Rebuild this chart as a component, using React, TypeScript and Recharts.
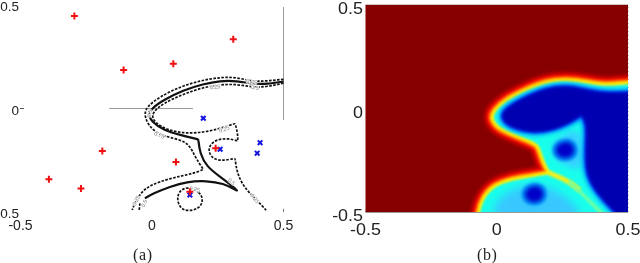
import React from 'react';
import { ScatterChart, Scatter, XAxis, YAxis, ReferenceLine, Curve } from 'recharts';

type Pair = [number, number];

const axisTicks = [-0.5, 0, 0.5];

// (a) training points
const redPoints: Pair[] = [
  [-0.295, 0.447], [0.309, 0.334], [0.081, 0.216], [-0.108, 0.186], [-0.189, -0.205],
  [-0.392, -0.342], [-0.27, -0.387], [0.091, -0.258], [0.242, -0.192], [0.144, -0.402],
];
const bluePoints: Pair[] = [
  [0.195, -0.047], [0.259, -0.197], [0.411, -0.165], [0.4, -0.216], [0.144, -0.418],
];

// (a) contours
const contour50: Pair[] = [
  [0.5, 0.13], [0.436, 0.118], [0.385, 0.118], [0.322, 0.134], [0.258, 0.134], [0.195, 0.118],
  [0.119, 0.089], [0.043, 0.041], [-0.001, 0.001], [-0.014, -0.031], [-0.001, -0.064],
  [0.043, -0.104], [0.106, -0.128], [0.176, -0.149], [0.176, -0.149], [0.182, -0.217], [0.208, -0.281],
  [0.258, -0.329], [0.309, -0.378], [0.324, -0.397], [0.324, -0.397], [0.271, -0.361], [0.208, -0.349],
  [0.132, -0.353], [0.068, -0.378], [0.005, -0.41], [-0.027, -0.434],
];
const contour50Tail: Pair[] = [[-0.046, -0.458], [-0.049, -0.494]];
const contour75: Pair[] = [
  [0.5, 0.141], [0.436, 0.133], [0.385, 0.13], [0.322, 0.151], [0.258, 0.151], [0.182, 0.134],
  [0.106, 0.105], [0.03, 0.057], [-0.02, 0.009], [-0.03, -0.031], [-0.014, -0.08], [0.018, -0.12],
  [0.068, -0.141], [0.138, -0.16], [0.163, -0.233], [0.195, -0.294], [0.195, -0.294], [0.163, -0.313],
  [0.068, -0.337], [-0.008, -0.37], [-0.046, -0.41], [-0.071, -0.474], [-0.075, -0.49],
];
const contour25: Pair[] = [
  [0.5, 0.122], [0.436, 0.105], [0.385, 0.102], [0.322, 0.118], [0.258, 0.115], [0.195, 0.102],
  [0.119, 0.07], [0.043, 0.025], [0.005, -0.015], [-0.001, -0.048], [0.03, -0.088], [0.094, -0.117],
  [0.17, -0.12], [0.252, -0.101], [0.316, -0.072], [0.316, -0.072], [0.326, -0.12], [0.326, -0.157], [0.326, -0.157], [0.29, -0.144],
  [0.246, -0.149], [0.22, -0.176], [0.214, -0.209], [0.233, -0.246], [0.271, -0.252], [0.316, -0.241], [0.316, -0.241],
  [0.322, -0.305], [0.347, -0.378], [0.398, -0.442], [0.436, -0.494],
];
const contourRing: Pair[] = [
  [0.138, -0.378], [0.182, -0.402], [0.195, -0.442], [0.182, -0.482], [0.138, -0.498],
  [0.106, -0.482], [0.094, -0.434], [0.106, -0.394],
];

const contourLabels = [
  { x: 0.24, y: 0.105, text: '0.25', angle: -6 },
  { x: 0.379, y: 0.13, text: '0.75', angle: 8 },
  { x: 0.392, y: 0.102, text: '0.5', angle: 8 },
  { x: -0.01, y: -0.023, text: '0.5', angle: -80 },
  { x: 0.028, y: -0.128, text: '0.75', angle: 20 },
  { x: 0.274, y: -0.099, text: '0.25', angle: -20 },
  { x: 0.303, y: -0.353, text: '0.5', angle: 40 },
  { x: 0.392, y: -0.434, text: '0.25', angle: 50 },
  { x: -0.061, y: -0.445, text: '0.25', angle: -65 },
  { x: -0.03, y: -0.458, text: '0.5', angle: -65 },
  { x: 0.163, y: -0.389, text: '0.25', angle: 10 },
];

// (b) surface regions
const plotFrame: Pair[] = [[-0.6, 0.6], [0.6, 0.6], [0.6, -0.6], [-0.6, -0.6]];
const boundaryRegion: Pair[] = [
  [-0.074, -0.587], [-0.064, -0.498], [-0.051, -0.442], [-0.013, -0.378], [0.063, -0.345], [0.152, -0.329],
  [0.209, -0.316], [0.209, -0.316], [0.188, -0.273], [0.171, -0.217], [0.162, -0.176], [0.133, -0.155],
  [0.063, -0.12], [0.006, -0.088], [-0.016, -0.047], [-0.007, -0.015], [0.038, 0.038], [0.114, 0.086],
  [0.19, 0.125], [0.266, 0.134], [0.342, 0.122], [0.406, 0.105], [0.495, 0.118], [0.558, 0.122],
  [0.62, 0.122], [0.62, -0.62], [-0.074, -0.62],
];
const lowerLobe: Pair[] = [
  [-0.026, -0.523], [-0.007, -0.458], [0.038, -0.402], [0.101, -0.37], [0.177, -0.37], [0.241, -0.402],
  [0.304, -0.474], [0.336, -0.531], [0.15, -0.62],
];
const upperLobe: Pair[] = [
  [0.203, -0.176], [0.266, -0.112], [0.317, -0.096], [0.33, -0.2], [0.323, -0.305], [0.279, -0.281], [0.228, -0.257],
];
const deepRegion: Pair[] = [
  [0.558, 0.081], [0.495, 0.076], [0.406, 0.073], [0.342, 0.089], [0.266, 0.109], [0.19, 0.097],
  [0.114, 0.057], [0.05, 0.012], [0.019, -0.023], [0.025, -0.064], [0.069, -0.096], [0.139, -0.117],
  [0.215, -0.101], [0.273, -0.072], [0.323, -0.031], [0.323, -0.031], [0.345, -0.072], [0.34, -0.184],
  [0.34, -0.297], [0.362, -0.37], [0.406, -0.442], [0.457, -0.506], [0.508, -0.579], [0.558, -0.62], [0.62, -0.62], [0.62, 0.081],
];
const upperSpot: Pair[] = [
  [0.22, -0.2], [0.235, -0.17], [0.26, -0.16], [0.285, -0.165], [0.3, -0.2], [0.285, -0.235], [0.26, -0.24], [0.235, -0.235],
];
const lowerSpot: Pair[] = [
  [0.103, -0.413], [0.118, -0.383], [0.143, -0.373], [0.168, -0.378], [0.183, -0.413], [0.168, -0.448], [0.143, -0.453], [0.118, -0.448],
];
const ridgeWarm: Pair[] = [[0.203, -0.313], [0.241, -0.333], [0.279, -0.357], [0.311, -0.39]];
const ridgeCool: Pair[] = [[0.279, -0.357], [0.317, -0.402], [0.355, -0.45], [0.4, -0.506]];

const toData = (pairs: Pair[]) => pairs.map(([x, y]) => ({ x, y }));
const noDot = () => <g />;

const FONT = '"Liberation Sans", Arial, sans-serif';

const PlusMark = ({ cx, cy }: any) => (
  <path d={`M${cx - 3.5} ${cy}H${cx + 3.5}M${cx} ${cy - 3.5}V${cy + 3.5}`} stroke="#f01010" strokeWidth={2} fill="none" />
);
const CrossMark = ({ cx, cy }: any) => (
  <path d={`M${cx - 2.3} ${cy - 2.3}L${cx + 2.3} ${cy + 2.3}M${cx + 2.3} ${cy - 2.3}L${cx - 2.3} ${cy + 2.3}`} stroke="#1414e0" strokeWidth={2} fill="none" />
);
const ContourText = ({ cx, cy, payload }: any) => (
  <text
    transform={`translate(${cx},${cy}) rotate(${payload.angle})`}
    textAnchor="middle"
    dy={2}
    fontSize={5.5}
    fontFamily={FONT}
    fill="#777"
    stroke="#fff"
    strokeWidth={1.2}
    paintOrder="stroke"
  >
    {payload.text}
  </text>
);

// the minus of the lower label is cut off by the page edge in the picture
const LeftYTick = ({ y, payload }: any) => (
  <g>
    <text x={19} y={y + 6} textAnchor="end" fontSize={13.5} fontFamily={FONT} fill="#222">{Math.abs(payload.value)}</text>
    {payload.value === 0 && <line x1={20} x2={24} y1={y} y2={y} stroke="#555" />}
  </g>
);
const LeftXTick = ({ x, payload }: any) => (
  <text x={x} y={230} textAnchor="middle" fontSize={14} fontFamily={FONT} fill="#222">{payload.value}</text>
);
const RightYTick = ({ y, payload }: any) => (
  <text transform={`translate(43,${y + 9}) scale(1.12,1)`} textAnchor="end" fontSize={16} fontFamily={FONT} fill="#222">{payload.value}</text>
);
const RightXTick = ({ x, payload }: any) => (
  <text transform={`translate(${x},235) scale(1.12,1)`} textAnchor="middle" fontSize={16} fontFamily={FONT} fill="#222">{payload.value}</text>
);

// one filled region, smoothed a little so the colour bands run into each other
const region = (pairs: Pair[], fill: string, strokeWidth = 0, blur = 1.3, curve: any = 'basisClosed') => (
  <Scatter
    data={toData(pairs)}
    shape={noDot}
    isAnimationActive={false}
    line={(props: any) => (
      <Curve
        points={props.points}
        type={curve}
        fill={fill}
        stroke={strokeWidth ? fill : 'none'}
        strokeWidth={strokeWidth}
        strokeLinejoin="round"
        style={{ filter: `blur(${blur}px)` }}
      />
    )}
  />
);

const ridge = (pairs: Pair[], stroke: string, strokeWidth: number) => (
  <Scatter
    data={toData(pairs)}
    shape={noDot}
    isAnimationActive={false}
    line={(props: any) => (
      <Curve points={props.points} type="basis" fill="none" stroke={stroke} strokeWidth={strokeWidth} strokeLinecap="round" style={{ filter: 'blur(1.3px)' }} />
    )}
  />
);

const contour = (pairs: Pair[], width: number, dash?: string, closed?: boolean) => (
  <Scatter
    data={toData(pairs)}
    shape={noDot}
    isAnimationActive={false}
    lineJointType={closed ? 'basisClosed' : 'basis'}
    line={{ stroke: '#111', strokeWidth: width, strokeDasharray: dash }}
  />
);

const PanelA = () => (
  <ScatterChart width={300} height={240} margin={{ top: 5, right: 16.5, bottom: 0, left: 0 }} style={{ position: 'absolute', left: 0, top: 0 }}>
    <XAxis type="number" dataKey="x" domain={[-0.5, 0.5]} ticks={axisTicks} height={28} axisLine={false} tickLine={false} tick={<LeftXTick />} interval={0} />
    <YAxis type="number" dataKey="y" domain={[-0.5, 0.5]} ticks={axisTicks} width={20.5} axisLine={false} tickLine={false} tick={<LeftYTick />} interval={0} />
    <ReferenceLine segment={[{ x: 0.5, y: 0.49 }, { x: 0.5, y: -0.055 }]} stroke="#999" strokeWidth={1} />
    <ReferenceLine segment={[{ x: -0.163, y: 0 }, { x: 0.156, y: 0 }]} stroke="#999" strokeWidth={1} />
    <ReferenceLine segment={[{ x: 0.5, y: -0.485 }, { x: 0.5, y: -0.5 }]} stroke="#777" strokeWidth={1} />
    {contour(contour75, 1.7, '2.6 1.4')}
    {contour(contour25, 1.7, '2.6 1.4')}
    {contour(contourRing, 1.7, '2.6 1.4', true)}
    {contour(contour50, 2.2)}
    {contour(contour50Tail, 1.7, '2.6 1.4')}
    <Scatter data={contourLabels} shape={<ContourText />} isAnimationActive={false} />
    <Scatter data={toData(bluePoints)} shape={<CrossMark />} isAnimationActive={false} />
    <Scatter data={toData(redPoints)} shape={<PlusMark />} isAnimationActive={false} />
  </ScatterChart>
);

const PanelB = () => (
  <ScatterChart width={320} height={240} margin={{ top: 5, right: 12, bottom: 0, left: 0 }} style={{ position: 'absolute', left: 320, top: 0 }}>
    <XAxis type="number" dataKey="x" domain={[-0.5, 0.5]} ticks={axisTicks} height={28} allowDataOverflow axisLine={{ stroke: '#333' }} tickLine={false} tick={<RightXTick />} interval={0} />
    <YAxis type="number" dataKey="y" domain={[-0.5, 0.5]} ticks={axisTicks} width={45.5} allowDataOverflow axisLine={false} tickLine={false} tick={<RightYTick />} interval={0} />
    {region(plotFrame, '#860000', 0, 0, 'linearClosed')}
    {region(boundaryRegion, '#c00000', 20, 1.5)}
    {region(boundaryRegion, '#ff1400', 14)}
    {region(boundaryRegion, '#ff8c00', 9.5)}
    {region(boundaryRegion, '#ffee00', 6)}
    {region(boundaryRegion, '#18ffec', 0, 1.2)}
    {region(lowerLobe, '#38c8ff', 0, 4)}
    {region(upperLobe, '#38d0ff', 0, 3)}
    {ridge(ridgeWarm, '#f0f020', 5)}
    {ridge(ridgeCool, '#70ffa0', 3.5)}
    {region(deepRegion, '#0090ff', 8, 2)}
    {region(deepRegion, '#0020e0', 3, 1.6)}
    {region(deepRegion, '#0000b0', 0, 1.6)}
    {region(upperSpot, '#0090f8', 7, 1.8)}
    {region(upperSpot, '#0000c8', 0, 2)}
    {region(lowerSpot, '#0090f8', 7, 1.8)}
    {region(lowerSpot, '#0000c8', 0, 2)}
    <ReferenceLine y={0.5} stroke="#a08888" strokeWidth={1} />
    <ReferenceLine x={0.5} stroke="#999" strokeWidth={1.2} strokeDasharray="1 3" />
  </ScatterChart>
);

const captionStyle: React.CSSProperties = {
  position: 'absolute',
  top: 246,
  fontFamily: '"Liberation Serif", serif',
  fontSize: 16,
  letterSpacing: 0.6,
  color: '#222',
  lineHeight: '18px',
};

export default function App() {
  return (
    <div style={{ position: 'absolute', left: 0, top: 0, width: 640, height: 263, overflow: 'hidden', background: '#fff', filter: 'blur(0.35px)' }}>
      <PanelA />
      <PanelB />
      <div style={{ ...captionStyle, left: 133 }}>(a)</div>
      <div style={{ ...captionStyle, left: 477 }}>(b)</div>
    </div>
  );
}
